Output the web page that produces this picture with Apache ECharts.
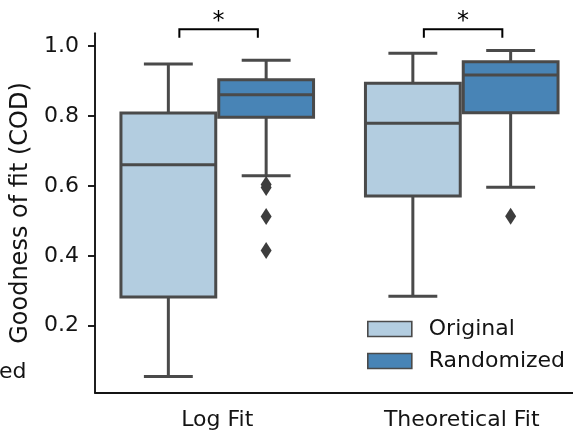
<!DOCTYPE html>
<html>
<head>
<meta charset="utf-8">
<script src="https://cdn.jsdelivr.net/npm/echarts@6/dist/echarts.min.js"></script>
<style>
  html, body { margin: 0; padding: 0; background: #fff; }
  #chart { width: 573px; height: 430px; }
</style>
</head>
<body>
<div id="chart"></div>
<script>
const categories = ['Log Fit', 'Theoretical Fit'];
const groups = ['Original', 'Randomized'];
// [category, min, q1, median, q3, max]
const originalBoxes = [
  [0, 0.055, 0.282, 0.660, 0.808, 0.948],
  [1, 0.284, 0.571, 0.779, 0.893, 0.979]
];
const randomizedBoxes = [
  [0, 0.629, 0.796, 0.860, 0.903, 0.959],
  [1, 0.596, 0.809, 0.917, 0.955, 0.987]
];
// [category, group, value]
const outliers = [
  [0, 1, 0.604], [0, 1, 0.595], [0, 1, 0.512], [0, 1, 0.415],
  [1, 1, 0.513]
];
const yTicks = [0.2, 0.4, 0.6, 0.8, 1.0];
// [category, label]
const significance = [[0, '*'], [1, '*']];

const FONT = 'DejaVu Sans';
const INK = '#141414';
const EDGE = '#4a4a4a';
const COLORS = ['#b3cde0', '#4884b6'];
const OFFSETS = [-0.2, 0.2];

function boxRenderer(g) {
  return function (params, api) {
    const cat = api.value(0);
    const band = api.size([1, 0])[0];
    const cx = api.coord([cat, 0])[0] + OFFSETS[g] * band;
    const w = band * 0.4 - 3;
    const cap = band * 0.1;
    const y = i => api.coord([cat, api.value(i)])[1];
    const ls = { stroke: EDGE, lineWidth: 3 };
    return {
      type: 'group',
      children: [
        { type: 'line', shape: { x1: cx, y1: y(1), x2: cx, y2: y(2) }, style: ls },
        { type: 'line', shape: { x1: cx, y1: y(4), x2: cx, y2: y(5) }, style: ls },
        { type: 'line', shape: { x1: cx - cap, y1: y(1), x2: cx + cap, y2: y(1) }, style: ls },
        { type: 'line', shape: { x1: cx - cap, y1: y(5), x2: cx + cap, y2: y(5) }, style: ls },
        { type: 'rect', shape: { x: cx - w / 2, y: y(4), width: w, height: y(2) - y(4) },
          style: { fill: COLORS[g], stroke: EDGE, lineWidth: 3 } },
        { type: 'line', shape: { x1: cx - w / 2, y1: y(3), x2: cx + w / 2, y2: y(3) }, style: ls }
      ]
    };
  };
}

const chart = echarts.init(document.getElementById('chart'));
chart.setOption({
  animation: false,
  textStyle: { fontFamily: FONT, color: INK },
  grid: { left: 95, right: -11, top: 33.3, bottom: 37.3, outerBoundsMode: 'none', containLabel: false },
  legend: {
    orient: 'vertical',
    left: 367, top: 318,
    padding: 0,
    itemWidth: 44, itemHeight: 15, itemGap: 10,
    icon: 'rect',
    data: groups.map((n, i) => ({ name: n, itemStyle: { color: COLORS[i], borderColor: EDGE, borderWidth: 1.6 } })),
    textStyle: { fontSize: 22, lineHeight: 22, fontFamily: FONT, color: INK, padding: [0, 0, 0, 12] }
  },
  xAxis: {
    type: 'category',
    data: categories,
    axisLine: { lineStyle: { color: INK, width: 1.9 } },
    axisTick: { alignWithLabel: true, length: 6, lineStyle: { color: INK, width: 1.9 } },
    axisLabel: { fontSize: 22, color: INK, fontFamily: FONT, margin: 17 }
  },
  yAxis: {
    type: 'value',
    min: 0.0086, max: 1.036,
    name: 'Goodness of fit (COD)',
    nameLocation: 'middle',
    nameGap: 60,
    nameTextStyle: { fontSize: 24, color: INK, fontFamily: FONT },
    axisLine: { show: true, lineStyle: { color: INK, width: 1.9 } },
    axisTick: { show: true, length: 7, customValues: yTicks, lineStyle: { color: INK, width: 1.9 } },
    axisLabel: { customValues: yTicks, formatter: v => v.toFixed(1), fontSize: 22, color: INK, fontFamily: FONT, margin: 16 },
    splitLine: { show: false }
  },
  series: [
    { name: groups[0], type: 'custom', data: originalBoxes, itemStyle: { color: COLORS[0] },
      renderItem: boxRenderer(0), encode: { x: 0, y: [1, 2, 3, 4, 5] } },
    { name: groups[1], type: 'custom', data: randomizedBoxes, itemStyle: { color: COLORS[1] },
      renderItem: boxRenderer(1), encode: { x: 0, y: [1, 2, 3, 4, 5] } },
    { type: 'custom', data: outliers, encode: { x: 0, y: 2 },
      renderItem: function (params, api) {
        const band = api.size([1, 0])[0];
        const p = api.coord([api.value(0), api.value(2)]);
        const x = p[0] + OFFSETS[api.value(1)] * band;
        return { type: 'polygon',
          shape: { points: [[x, p[1] - 8.5], [x + 5.5, p[1]], [x, p[1] + 8.5], [x - 5.5, p[1]]] },
          style: { fill: '#3d3d3d' } };
      } },
    { type: 'custom', data: significance, encode: { x: 0 }, clip: false,
      renderItem: function (params, api) {
        const cat = api.value(0);
        const band = api.size([1, 0])[0];
        const c = api.coord([cat, 1.0475]);
        const yb = api.coord([cat, 1.0235])[1];
        const xl = c[0] - 0.155 * band, xr = c[0] + 0.166 * band;
        return { type: 'group', children: [
          { type: 'polyline', shape: { points: [[xl, yb], [xl, c[1]], [xr, c[1]], [xr, yb]] },
            style: { stroke: '#000', lineWidth: 2, fill: null } },
          { type: 'text', style: { text: significance[params.dataIndex][1], x: (xl + xr) / 2, y: c[1] + 4,
            align: 'center', verticalAlign: 'bottom', fontSize: 24, fontFamily: FONT, fill: '#000' } }
        ] };
      } }
  ],
  graphic: [
    { type: 'text', left: -1, top: 361, style: { text: 'ed', fontSize: 22, fontFamily: FONT, fill: INK } }
  ]
});
</script>
</body>
</html>
